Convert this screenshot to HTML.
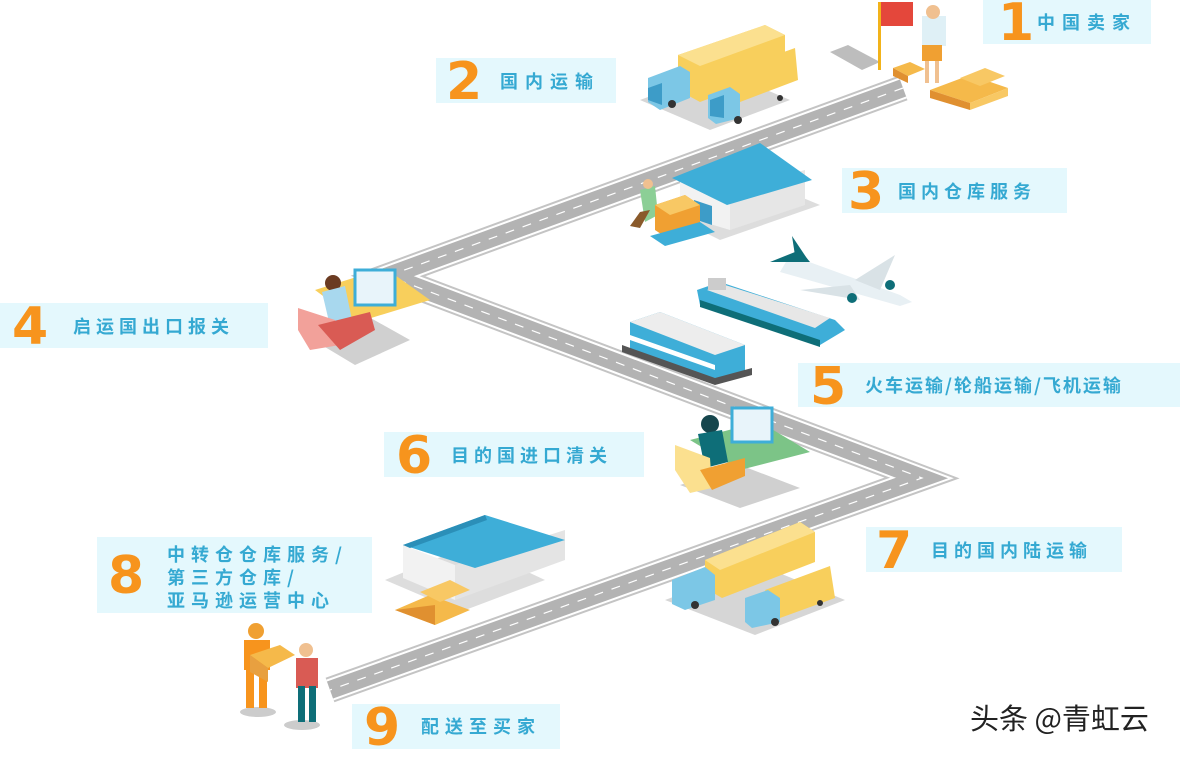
<!DOCTYPE html>
<html><head><meta charset="utf-8">
<style>
html,body{margin:0;padding:0;background:#fff;}
body{width:1180px;height:749px;position:relative;overflow:hidden;font-family:"Liberation Sans","Noto Sans CJK SC",sans-serif;}
.lb{position:absolute;background:#e4f8fd;}
.n{position:absolute;color:#f7941d;font-size:52px;font-weight:bold;line-height:1;font-family:"DejaVu Sans","Liberation Sans",sans-serif;}
.t{position:absolute;color:#35a9d2;font-size:18px;font-weight:bold;letter-spacing:7px;line-height:1;white-space:nowrap;font-family:"Noto Sans CJK SC","WenQuanYi Zen Hei",sans-serif;}
svg{position:absolute;left:0;top:0;}
.wm{position:absolute;left:970px;top:696px;font-size:29px;color:#222;font-family:"Noto Sans CJK SC","Liberation Sans",sans-serif;}
</style></head><body>
<svg width="1180" height="749" viewBox="0 0 1180 749">
  <polygon points="830,52 848,45 880,62 862,70" fill="#bdbdbd"/>
  <polyline points="903,88 388,276 922,478 330,690" fill="none" stroke="#c4c4c4" stroke-width="26" stroke-linejoin="miter"/>
  <polyline points="903,88 388,276 922,478 330,690" fill="none" stroke="#ffffff" stroke-width="22" stroke-linejoin="miter"/>
  <polyline points="903,88 388,276 922,478 330,690" fill="none" stroke="#b3b3b3" stroke-width="18" stroke-linejoin="miter"/>
  <polyline points="903,88 388,276 922,478 330,690" fill="none" stroke="#ffffff" stroke-width="1.2" stroke-dasharray="9,9"/>
  <polygon points="640,100 720,70 790,100 710,130" fill="#d6d6d6"/>
  <polygon points="678,55 765,25 785,35 785,70 700,102 678,90" fill="#f8cf5c"/>
  <polygon points="678,55 765,25 785,35 700,66" fill="#fbe08f"/>
  <polygon points="648,78 680,66 690,72 690,98 660,110 648,102" fill="#7cc7e6"/>
  <polygon points="648,88 662,83 662,105 648,100" fill="#3d9cc8"/>
  <polygon points="720,75 795,48 798,80 740,102 720,98" fill="#f8cf5c"/>
  <polygon points="708,95 730,87 740,94 740,118 716,124 708,118" fill="#7cc7e6"/>
  <polygon points="710,100 724,95 724,118 710,116" fill="#3d9cc8"/>
  <circle cx="672" cy="104" r="4" fill="#333"/><circle cx="738" cy="120" r="4" fill="#333"/><circle cx="780" cy="98" r="3" fill="#333"/>
  <rect x="878" y="2" width="3" height="68" fill="#f2b31a"/>
  <rect x="881" y="2" width="32" height="24" fill="#e4473b"/>
  <rect x="922" y="16" width="24" height="30" fill="#dff0f6"/>
  <circle cx="933" cy="12" r="7" fill="#f0c090"/>
  <rect x="922" y="45" width="20" height="16" fill="#f0a032"/>
  <rect x="925" y="61" width="4" height="22" fill="#f0c090"/><rect x="935" y="61" width="4" height="22" fill="#f0c090"/>
  <polygon points="893,68 910,62 925,69 908,76" fill="#f5b94a"/><polygon points="893,68 908,76 908,83 893,76" fill="#e09030"/>
  <polygon points="930,90 970,75 1008,88 970,103" fill="#f5b94a"/>
  <polygon points="930,90 970,103 970,110 930,98" fill="#e09030"/><polygon points="970,103 1008,88 1008,96 970,110" fill="#f8c864"/>
  <polygon points="960,78 985,68 1005,76 980,86" fill="#f8c864"/>
  <polygon points="660,210 760,180 820,205 720,240" fill="#ddd"/>
  <polygon points="680,178 680,215 730,230 730,190" fill="#f2f2f2"/>
  <polygon points="730,190 730,230 805,205 805,170" fill="#e6e6e6"/>
  <polygon points="672,178 760,143 812,180 727,205" fill="#3eaed8"/>
  <polygon points="694,200 712,206 712,225 694,219" fill="#3d9cc8"/>
  <polygon points="640,190 655,186 658,215 645,222" fill="#8ccf96"/>
  <circle cx="648" cy="184" r="5" fill="#f0c090"/>
  <polygon points="640,212 650,210 640,228 630,226" fill="#8a5a2b"/>
  <polygon points="655,205 685,195 700,205 700,232 670,240 655,230" fill="#f0a032"/>
  <polygon points="655,205 685,195 700,205 670,215" fill="#f8c864"/>
  <polygon points="650,236 700,222 715,232 665,246" fill="#3eaed8"/>
  <polygon points="790,255 900,295 912,302 900,306 780,272" fill="#e8f0f4"/>
  <polygon points="770,262 800,250 810,262" fill="#0e6e78"/>
  <polygon points="792,236 808,260 796,262" fill="#0e6e78"/>
  <polygon points="855,280 895,255 880,290" fill="#d9e2e6"/>
  <polygon points="800,290 850,285 860,300" fill="#d9e2e6"/>
  <circle cx="852" cy="298" r="5" fill="#0e6e78"/><circle cx="890" cy="285" r="5" fill="#0e6e78"/>
  <polygon points="697,290 720,282 835,320 845,330 820,345 700,305" fill="#3eaed8"/>
  <polygon points="700,300 820,340 820,347 700,307" fill="#0e6e78"/>
  <polygon points="707,290 722,284 830,318 815,328" fill="#e7e7e7"/>
  <rect x="708" y="278" width="18" height="12" fill="#ccc"/>
  <polygon points="630,322 660,312 745,345 745,372 715,382 630,350" fill="#3eaed8"/>
  <polygon points="630,322 660,312 745,345 715,355" fill="#ededed"/>
  <polygon points="630,335 715,365 715,370 630,340" fill="#fff"/>
  <polygon points="622,345 715,378 752,368 752,375 715,385 622,352" fill="#555"/>
  <polygon points="305,335 360,312 410,340 355,365" fill="#d0d0d0"/>
  <polygon points="315,290 385,268 430,300 358,322" fill="#f8cf5c"/>
  <rect x="355" y="270" width="40" height="35" fill="#e8f4fa" stroke="#3eaed8" stroke-width="3"/>
  <circle cx="333" cy="283" r="8" fill="#6b3b22"/>
  <polygon points="322,292 345,286 352,320 330,326" fill="#a8d8ee"/>
  <polygon points="298,308 335,320 340,345 310,350 298,330" fill="#f2a19a"/>
  <polygon points="318,325 370,312 375,330 340,350" fill="#d95b54"/>
  <polygon points="680,485 740,465 800,488 740,508" fill="#d0d0d0"/>
  <polygon points="690,440 760,422 810,452 740,470" fill="#7cc487"/>
  <rect x="732" y="408" width="40" height="34" fill="#e8f4fa" stroke="#3eaed8" stroke-width="3"/>
  <circle cx="710" cy="424" r="9" fill="#16464d"/>
  <polygon points="698,434 722,430 728,462 705,468" fill="#0e6e78"/>
  <polygon points="675,445 710,458 712,488 690,493 675,470" fill="#fbe08f"/>
  <polygon points="700,470 745,458 745,476 712,490" fill="#f0a032"/>
  <polygon points="385,580 470,545 545,580 460,612" fill="#ddd"/>
  <polygon points="403,545 403,578 455,600 455,565" fill="#f2f2f2"/>
  <polygon points="455,565 455,600 565,560 565,530" fill="#e4e4e4"/>
  <polygon points="403,545 485,515 565,540 475,568" fill="#3eaed8"/>
  <polygon points="403,545 485,515 487,520 410,548" fill="#2b8fb8"/>
  <polygon points="395,610 430,595 470,610 435,625" fill="#f5b94a"/>
  <polygon points="395,610 435,625 435,605" fill="#e09030"/>
  <polygon points="420,592 450,580 470,590 440,602" fill="#f8c864"/>
  <polygon points="665,600 760,565 845,600 755,635" fill="#d6d6d6"/>
  <polygon points="705,560 800,522 815,532 815,562 722,598 705,588" fill="#f8cf5c"/>
  <polygon points="705,560 800,522 815,532 720,570" fill="#fbe08f"/>
  <polygon points="672,580 705,567 715,575 715,600 685,610 672,604" fill="#7cc7e6"/>
  <polygon points="765,590 830,566 835,598 780,618" fill="#f8cf5c"/>
  <polygon points="745,598 768,590 780,598 780,622 752,628 745,622" fill="#7cc7e6"/>
  <circle cx="695" cy="605" r="4" fill="#333"/><circle cx="775" cy="622" r="4" fill="#333"/><circle cx="820" cy="603" r="3" fill="#333"/>
  <ellipse cx="258" cy="712" rx="18" ry="5" fill="#ccc"/><ellipse cx="302" cy="725" rx="18" ry="5" fill="#ccc"/>
  <circle cx="256" cy="631" r="8" fill="#f0a032"/>
  <rect x="244" y="640" width="26" height="30" fill="#f7941d"/>
  <rect x="246" y="668" width="8" height="40" fill="#f7941d"/><rect x="259" y="668" width="8" height="40" fill="#f7941d"/>
  <polygon points="250,655 280,645 295,655 268,668" fill="#f5b94a"/>
  <polygon points="250,655 268,668 268,682 250,672" fill="#e8a040"/>
  <circle cx="306" cy="650" r="7" fill="#f0c090"/>
  <rect x="296" y="658" width="22" height="30" fill="#d95b54"/>
  <rect x="298" y="686" width="7" height="36" fill="#0e6e78"/><rect x="309" y="686" width="7" height="36" fill="#0e6e78"/>
</svg>

<div class="lb" style="left:983px;top:0;width:168px;height:44px"></div>
<div class="n" style="left:998px;top:-3px">1</div><div class="t" style="left:1037px;top:13px">中国卖家</div>

<div class="lb" style="left:436px;top:58px;width:180px;height:45px"></div>
<div class="n" style="left:446px;top:56px">2</div><div class="t" style="left:500px;top:72px">国内运输</div>

<div class="lb" style="left:842px;top:168px;width:225px;height:45px"></div>
<div class="n" style="left:848px;top:166px">3</div><div class="t" style="left:898px;top:182px;letter-spacing:5px">国内仓库服务</div>

<div class="lb" style="left:0;top:303px;width:268px;height:45px"></div>
<div class="n" style="left:12px;top:301px">4</div><div class="t" style="left:73px;top:317px;letter-spacing:5px">启运国出口报关</div>

<div class="lb" style="left:798px;top:363px;width:382px;height:44px"></div>
<div class="n" style="left:810px;top:361px">5</div><div class="t" style="left:865px;top:376px;letter-spacing:2px">火车运输/轮船运输/飞机运输</div>

<div class="lb" style="left:384px;top:432px;width:260px;height:45px"></div>
<div class="n" style="left:396px;top:430px">6</div><div class="t" style="left:451px;top:446px;letter-spacing:5px">目的国进口清关</div>

<div class="lb" style="left:866px;top:527px;width:256px;height:45px"></div>
<div class="n" style="left:876px;top:525px">7</div><div class="t" style="left:931px;top:541px;letter-spacing:5px">目的国内陆运输</div>

<div class="lb" style="left:97px;top:537px;width:275px;height:76px"></div>
<div class="n" style="left:108px;top:550px">8</div>
<div class="t" style="left:167px;top:543px;line-height:23px;letter-spacing:6px">中转仓仓库服务/<br>第三方仓库/<br>亚马逊运营中心</div>

<div class="lb" style="left:352px;top:704px;width:208px;height:45px"></div>
<div class="n" style="left:364px;top:702px">9</div><div class="t" style="left:421px;top:717px;letter-spacing:6px">配送至买家</div>

<div class="wm">头条 @青虹云</div>
</body></html>
